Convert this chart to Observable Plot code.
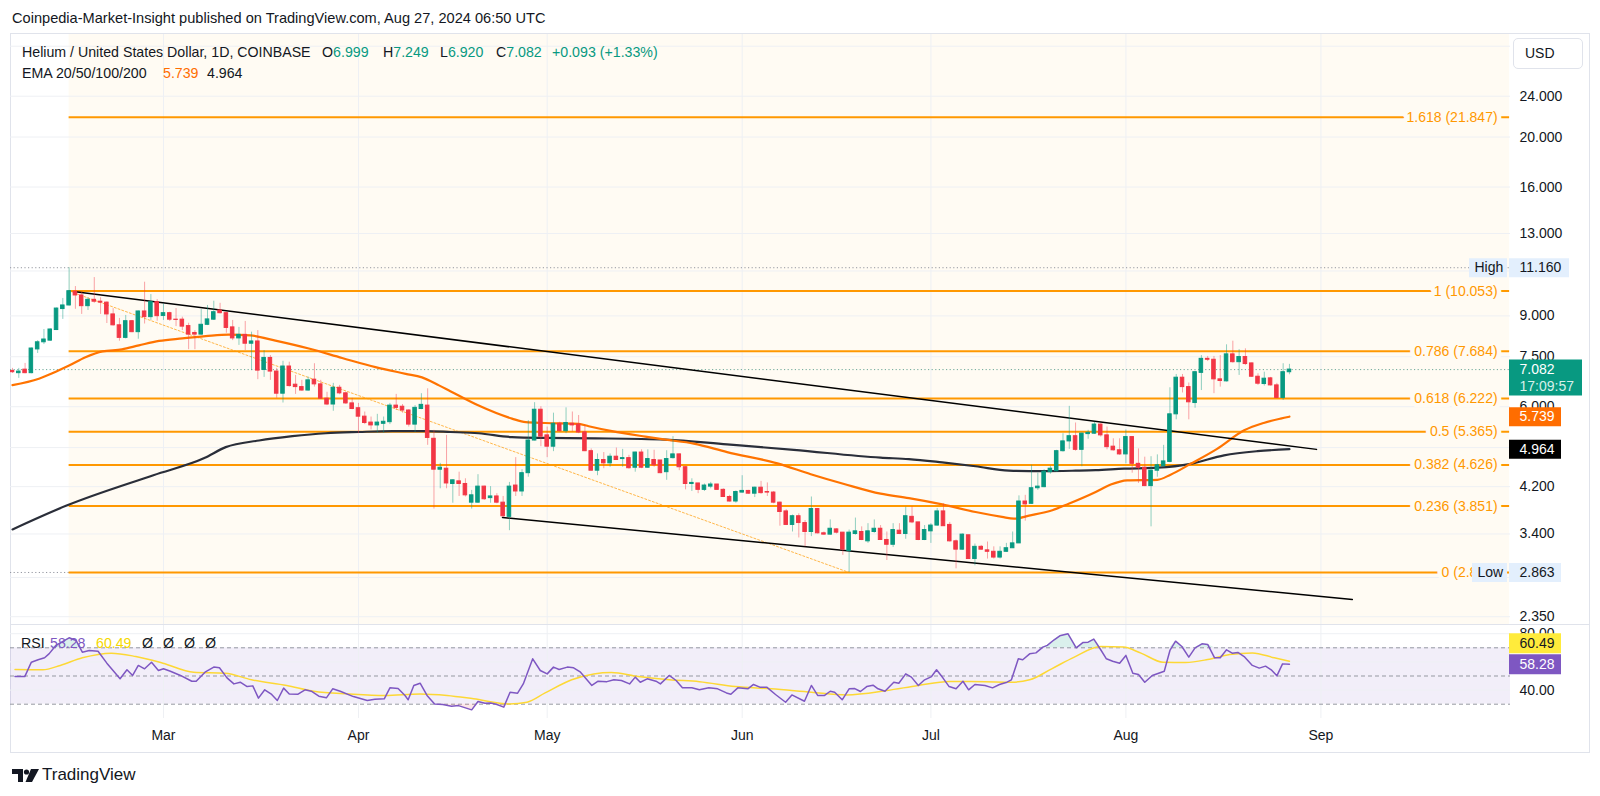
<!DOCTYPE html>
<html><head><meta charset="utf-8">
<script src="https://cdn.jsdelivr.net/npm/d3@7"></script>
<script src="https://cdn.jsdelivr.net/npm/@observablehq/plot@0.6"></script>
<style>
body{margin:0;width:1600px;height:796px;background:#fff;font-family:"Liberation Sans",Arial,sans-serif;color:#131722;overflow:hidden;position:relative}
.abs{position:absolute;white-space:nowrap}
.g{color:#089981}
.lg{font-size:14.2px}
</style></head><body>
<div class="abs" style="left:12px;top:10px;font-size:14.6px">Coinpedia-Market-Insight published on TradingView.com, Aug 27, 2024 06:50 UTC</div>
<div class="abs" style="left:10px;top:33px;width:1580px;height:720px;border:1px solid #e0e3eb;box-sizing:border-box"></div>
<div id="price" class="abs" style="left:0;top:34px"></div>
<div id="paxis" class="abs" style="left:1460px;top:34px"></div>
<div class="abs" style="left:10px;top:624px;width:1580px;height:1px;background:#e0e3eb"></div>
<div id="rsi" class="abs" style="left:0;top:625px"></div>
<div id="raxis" class="abs" style="left:1460px;top:625px"></div>

<div class="abs" style="left:1513px;top:38px;width:70px;height:31px;border:1px solid #e0e3eb;border-radius:5px;box-sizing:border-box;font-size:14px;line-height:29px;padding-left:11px;background:#fff">USD</div>

<div class="abs lg" style="left:22px;top:44px">Helium / United States Dollar, 1D, COINBASE</div>
<div class="abs lg" style="left:322px;top:44px">O<span class="g">6.999</span></div>
<div class="abs lg" style="left:383px;top:44px">H<span class="g">7.249</span></div>
<div class="abs lg" style="left:440px;top:44px">L<span class="g">6.920</span></div>
<div class="abs lg" style="left:496px;top:44px">C<span class="g">7.082</span></div>
<div class="abs lg g" style="left:552px;top:44px">+0.093 (+1.33%)</div>
<div class="abs lg" style="left:22px;top:65px">EMA 20/50/100/200</div>
<div class="abs lg" style="left:163px;top:65px;color:#ff6d00">5.739</div>
<div class="abs lg" style="left:207px;top:65px">4.964</div>

<div class="abs lg" style="left:21px;top:635px">RSI</div>
<div class="abs lg" style="left:50px;top:635px;color:#7e57c2">58.28</div>
<div class="abs lg" style="left:96px;top:635px;color:#f5d800">60.49</div>
<div class="abs lg" style="left:142px;top:635px;word-spacing:6px">Ø Ø Ø Ø</div>

<div class="abs" style="left:12px;top:766px;height:18px">
<svg width="28" height="16" viewBox="0 0 28 16" style="position:absolute;left:0;top:2px"><path d="M0 1H11V14H6V6H0Z" fill="#131722"/><circle cx="14.5" cy="4" r="2.6" fill="#131722"/><path d="M19 1H27L20 14H13.5Z" fill="#131722"/></svg>
<span style="position:absolute;left:30px;top:-1px;font-size:17px">TradingView</span></div>

<script>
// ---------- data ----------
const startDate = "2024-02-06"; // first daily candle
const open  = [7.04,6.97,7.08,6.97,7.75,8.00,8.06,8.45,9.28,9.43,10.03,9.86,9.40,9.67,9.59,9.55,9.06,8.63,8.16,8.79,8.37,9.18,8.95,9.57,9.00,9.11,8.85,8.85,8.60,8.34,8.28,8.65,8.85,9.22,9.11,8.55,8.14,8.27,7.95,8.03,7.07,7.46,7.02,6.36,7.18,6.62,6.55,6.45,6.77,6.63,6.22,6.06,6.53,6.37,6.09,5.96,5.74,5.59,5.52,5.56,5.60,6.03,6.00,5.90,5.54,5.94,6.03,5.20,4.53,4.55,4.25,4.30,4.25,3.91,3.91,4.20,3.99,4.02,3.91,3.67,4.22,4.11,4.46,5.16,5.92,5.28,5.02,5.56,5.38,5.56,5.54,5.35,4.92,4.51,4.73,4.66,4.80,4.75,4.77,4.57,4.89,4.57,4.73,4.72,4.48,4.77,4.85,4.58,4.25,4.26,4.14,4.20,4.24,4.14,4.01,3.93,4.09,4.12,4.07,4.18,4.10,4.09,3.91,3.76,3.54,3.68,3.57,3.43,3.80,3.41,3.39,3.47,3.42,3.15,3.40,3.43,3.29,3.43,3.48,3.31,3.24,3.45,3.40,3.67,3.58,3.31,3.44,3.53,3.76,3.54,3.29,3.17,3.38,3.04,3.21,3.16,3.14,3.06,3.14,3.19,3.26,3.93,3.89,4.17,4.19,4.48,4.50,4.92,5.14,5.26,4.95,5.31,5.32,5.54,5.28,5.02,4.94,4.85,5.24,4.65,4.57,4.21,4.51,4.60,4.69,5.80,6.83,6.55,6.10,6.98,7.43,7.40,6.78,6.72,7.58,7.32,7.49,7.28,6.86,6.64,6.81,6.60,6.24,6.999];
const high  = [7.12,7.12,7.28,7.80,8.06,8.47,8.50,9.32,9.73,11.16,10.26,10.01,9.76,10.68,9.76,9.58,9.30,8.90,9.02,8.82,9.20,10.46,9.90,9.68,9.49,9.15,9.30,8.95,8.71,8.43,9.26,9.43,9.61,9.52,9.15,8.82,8.55,8.78,8.37,8.43,7.71,7.54,7.12,7.35,7.32,6.90,6.75,6.85,7.27,6.75,6.40,6.66,6.60,6.40,6.23,6.09,5.86,5.73,5.80,5.73,6.09,6.34,6.06,5.92,6.03,6.36,6.50,5.40,4.66,5.28,4.33,4.48,4.35,4.13,4.43,4.21,4.20,4.07,4.02,4.28,4.78,4.53,5.64,6.11,6.00,5.48,5.83,5.60,5.97,5.86,5.77,5.52,4.97,4.86,4.89,4.86,4.99,4.96,4.83,4.90,4.95,4.95,4.94,4.72,4.93,5.25,4.86,4.59,4.35,4.26,4.25,4.28,4.24,4.16,4.04,4.12,4.41,4.13,4.19,4.30,4.27,4.11,3.92,3.79,3.70,3.72,3.61,4.01,3.81,3.43,3.62,3.48,3.42,3.46,3.65,3.51,3.56,3.62,3.53,3.43,3.56,3.56,3.83,3.84,3.58,3.53,3.56,3.81,3.89,3.58,3.31,3.40,3.38,3.25,3.23,3.28,3.21,3.21,3.26,3.43,4.03,4.04,4.62,4.46,4.53,4.60,4.94,5.32,6.01,5.58,5.33,5.40,5.60,5.56,5.48,5.20,5.20,5.41,5.24,4.97,4.79,4.80,4.84,5.05,6.53,6.93,6.93,6.67,7.03,7.54,7.51,7.51,7.54,7.91,8.04,7.74,7.77,7.29,6.95,7.00,6.84,6.66,7.27,7.249];
const low   = [6.96,6.81,6.95,6.95,7.61,7.92,8.03,8.43,8.86,9.40,9.27,9.06,9.22,9.52,9.06,8.70,8.60,8.04,8.12,8.35,8.11,8.68,8.82,8.79,8.82,8.78,8.58,8.43,7.74,7.74,8.25,8.62,8.82,9.08,8.33,8.06,7.89,7.71,7.05,6.77,6.84,6.75,6.23,6.10,6.55,6.34,6.43,6.43,6.55,6.20,6.03,5.88,6.33,6.06,5.92,5.32,5.54,5.41,5.33,5.33,5.54,5.90,5.83,5.48,5.35,5.92,5.05,3.80,4.16,4.16,3.90,4.02,4.01,3.80,3.90,3.95,3.90,3.89,3.66,3.45,4.02,4.02,4.38,5.15,5.02,4.78,4.91,5.36,5.32,5.36,5.32,4.91,4.50,4.41,4.55,4.58,4.72,4.58,4.54,4.48,4.55,4.56,4.58,4.45,4.32,4.75,4.51,4.14,4.11,4.07,4.11,4.16,4.13,4.00,3.92,3.90,4.08,4.06,4.00,4.06,4.02,3.89,3.52,3.53,3.43,3.34,3.21,3.36,3.40,3.38,3.38,3.40,3.09,2.863,3.38,3.30,3.26,3.41,3.31,3.02,3.20,3.39,3.32,3.56,3.30,3.30,3.26,3.52,3.52,3.28,2.91,3.16,3.04,2.95,3.16,3.04,3.04,3.04,3.13,3.19,3.26,3.60,3.88,4.13,4.18,4.44,4.48,4.90,4.96,4.92,4.59,5.19,5.30,5.24,4.95,4.92,4.83,4.65,4.46,4.26,4.20,3.51,4.38,4.58,4.67,5.66,6.38,5.66,5.96,6.45,7.34,6.36,6.55,6.70,7.29,6.90,7.21,6.84,6.60,6.58,6.58,6.22,6.17,6.920];
const close = [7.00,7.02,6.97,7.78,8.00,8.10,8.47,9.30,9.43,10.05,9.86,9.40,9.67,9.59,9.55,9.06,8.63,8.16,8.79,8.37,9.18,8.95,9.57,8.99,9.11,8.85,8.84,8.58,8.28,8.28,8.65,8.86,9.15,9.11,8.53,8.14,8.27,7.95,8.03,7.05,7.46,7.02,6.36,7.18,6.58,6.55,6.45,6.75,6.63,6.22,6.06,6.53,6.37,6.09,5.94,5.74,5.58,5.52,5.59,5.61,6.03,5.97,5.90,5.54,5.97,6.05,5.22,4.53,4.57,4.26,4.32,4.25,4.04,4.04,4.20,3.97,4.02,3.91,3.68,4.20,4.11,4.46,5.16,5.92,5.25,5.02,5.56,5.38,5.58,5.52,5.35,4.92,4.51,4.73,4.66,4.80,4.73,4.77,4.56,4.89,4.57,4.75,4.62,4.46,4.75,4.85,4.58,4.25,4.27,4.14,4.22,4.24,4.14,4.01,3.93,4.10,4.12,4.07,4.18,4.08,4.09,3.91,3.75,3.54,3.68,3.57,3.43,3.80,3.41,3.39,3.48,3.42,3.17,3.42,3.44,3.31,3.44,3.48,3.31,3.24,3.46,3.40,3.68,3.58,3.31,3.46,3.53,3.76,3.52,3.29,3.17,3.39,3.04,3.21,3.17,3.14,3.06,3.14,3.19,3.26,3.93,3.88,4.17,4.20,4.49,4.55,4.92,5.14,5.26,4.95,5.32,5.34,5.54,5.28,5.01,4.94,4.85,5.24,4.65,4.57,4.21,4.51,4.62,4.70,5.80,6.83,6.55,6.12,7.00,7.43,7.40,6.78,6.73,7.58,7.32,7.49,7.26,6.86,6.65,6.80,6.60,6.24,7.00,7.082];

// EMA lines (day offset from first candle, price)
const emaFastT = [0,4.2,6.8,9.0,11.6,14.3,17.4,20.1,23.3,27.0,30.7,34.4,37.8,41.8,47.1,52.4,57.7,62.5,65.1,67.8,69.6,74.1,79.4,81.6,84.7,90.0,91.6,95.3,100.6,103.8,108.3,113.6,121.6,126.9,132.2,138.0,142.5,147.8,153.1,157.3,159.2,161.6,165.3,167.9,172.2,174.6,177.2,182.0,184.1,187.3,191.5,195.8,198.9,201.6,203];
const emaFastV = [6.61,6.80,7.01,7.21,7.48,7.68,7.75,7.89,8.05,8.14,8.22,8.28,8.25,8.06,7.78,7.46,7.16,6.95,6.84,6.60,6.43,6.03,5.69,5.60,5.58,5.56,5.50,5.38,5.25,5.18,5.09,4.90,4.66,4.44,4.25,4.07,3.99,3.88,3.75,3.67,3.64,3.69,3.78,3.89,4.10,4.24,4.32,4.33,4.43,4.65,4.97,5.40,5.58,5.69,5.739];
const emaSlowT = [0,8.6,22.4,30.5,33.9,39.2,44.5,49.8,55.1,60.4,65.7,69.6,74.1,79.4,84.7,92.7,103.8,113.6,124.2,138.0,142.5,147.8,153.1,158.4,163.7,169.0,172.2,176.7,182.0,187.3,192.6,197.9,203];
const emaSlowV = [3.47,3.86,4.42,4.77,5.01,5.16,5.26,5.33,5.36,5.38,5.38,5.36,5.33,5.24,5.22,5.21,5.18,5.07,4.95,4.78,4.75,4.68,4.60,4.51,4.50,4.51,4.52,4.55,4.57,4.65,4.83,4.92,4.964];

// RSI and its moving average
const rsiT = [0.4,1.95,3.0,4.07,5.1,5.8,6.9,9.0,10.1,11.1,12.2,13.6,15.0,17.1,18.2,19.1,20.0,21.0,22.1,23.2,24,25.1,26.7,28.5,29.2,30.6,32.0,32.9,34.1,35.2,36.2,37.3,38.2,39.1,40.1,41.2,42.1,43.1,44.0,45.4,46.5,47.5,48.7,49.9,50.9,52.1,54.2,56.4,57.6,59.1,60.0,61.3,62.4,62.9,63.8,64.8,65.9,67.1,68.4,69.8,70.9,73.0,74.0,75.1,76.0,76.9,78.1,79.1,80.3,81.2,82.7,83.9,85.0,86.0,86.9,88.2,89.2,90.3,92.1,93.1,94.5,95.6,96.8,98.1,99.0,99.8,100.9,102.3,103.0,104.4,105.5,106.5,108.0,109.2,110.7,112.1,113.5,114.2,115.3,116.9,117.8,118.8,119.9,121.3,122.9,123.9,125.9,127.0,128.0,129.1,130.0,130.7,131.9,133.0,133.9,134.8,135.8,136.8,137.6,138.7,140.1,140.9,142.0,142.9,144.0,145.0,146.1,146.9,147.9,148.9,150.0,151.1,152.0,153.0,154.6,155.8,156.9,158.1,158.8,159.9,160.6,161.7,162.7,163.8,164.5,165.6,166.5,167.8,169.1,170.2,171.0,171.9,173.0,173.9,174.9,176.0,177.0,178.1,179.0,180.0,181.2,183.1,184.0,184.9,185.9,187.0,188.0,189.1,190.0,191.1,192.0,193.0,193.9,194.8,195.8,197.1,198.2,199.2,200.1,201.0,201.9,203];
const rsiV = [49.6,49.6,59.8,61.5,62.9,65.7,71.7,77.1,75.2,66.9,68.1,67.6,59.1,48,54.4,50.4,57.5,55.1,59.8,53.9,55.1,53.4,50.4,46.3,46.3,52.7,56.3,55.8,48.7,44.4,45.6,42.5,43,34.3,40.2,36.9,32.6,41.4,37.3,37.1,40.2,39.2,35.7,34.5,40.9,39.2,35.4,32.6,33.5,33.8,41.6,41.2,36.2,33.1,43.3,44.9,36.2,30.2,29.8,28.6,29,26,31.9,30.7,30.9,30,27.9,38.5,37.8,44.4,62.2,53.9,51.5,56.3,54.6,56.3,55.8,52.7,43.3,46.3,46.0,47.3,46.8,44.4,49.2,45.6,48,46.3,44.4,50.4,46.8,41.6,41.6,40.2,41.6,40.9,38,37.1,41.6,40.9,44,42.1,42.1,36.9,31.4,36.6,32.1,43.3,36.2,36.2,39.2,38.5,33.1,40.9,41.1,39,42.5,43.5,40.9,39.2,45.6,44.9,51.5,49.2,43.3,47.3,49.6,54.4,48.7,42.5,40.9,46.3,40.2,44,43.3,41.6,44,45.6,47.3,62.2,61.5,65.7,66.4,70.5,71.7,75.7,78.5,79.9,70,73.8,74,76.2,68.6,62.2,60.5,59.1,64.6,52,51.1,45.6,50.4,53.4,68.1,74.7,70.9,63.4,70,72.8,72.4,62.9,62.9,68.6,66.2,66.7,63.8,57.5,55.6,57,54.4,50.1,58.6,58.28];
const maT = [0.4,4.8,7.6,11.1,15.7,19.6,23.9,28.8,33.8,38.0,43.6,47.9,53.5,59.2,64.8,69.1,73.3,79.0,81.8,84.6,88.9,92.4,95.2,99.5,104.4,109.2,114.9,120.6,127.0,132.6,139.0,144.0,148.9,154.6,158.8,161.7,165.2,168.8,173.0,176.6,179.4,182.9,186.5,190.0,193.5,197.1,200.6,203];
const maV = [54.6,54.4,57.5,62.9,66.2,63.8,59.1,52.7,52,47.3,43.3,39.2,37.3,36.2,37.3,36.2,33.8,30.2,31.4,37.8,47.3,51.5,52.5,49.6,47.3,46,42.5,40.9,38.5,36.6,39.7,43.3,46.1,45.9,45.6,47.3,55.1,63.4,70.9,70.5,66.2,59.8,59.6,61.7,65.3,66.4,62.9,60.49];

// Fibonacci retracement (log) drawn from the Feb 15 high to the Jun 18 low
const fibLevels = [0, 0.236, 0.382, 0.5, 0.618, 0.786, 1, 1.618];
const fibPrices = [2.863, 3.851, 4.626, 5.365, 6.222, 7.684, 10.053, 21.847];
const fibFrom = "2024-02-15", fibTo = "2024-10-01";
// trend lines: [day offset, price]
const upperTrend = [[10, 10.03], [207.3, 4.96]];
const lowerTrend = [[77.9, 3.66], [213, 2.537]];
const fibTrend = [[9, 10.053], [133, 2.863]];

const gridTicks = [2.35, 2.8, 3.4, 4.2, 5, 6, 7.5, 9, 11, 13, 16, 20, 24, 30];
const priceTicks = [2.35, 3.4, 4.2, 6, 7.5, 9, 13, 16, 20, 24];
const rsiTicks = [40, 60, 80];
const rsiLabelTicks = [40, 80];
const rsiLevels = [30, 50, 70];
const monthTicks = ["2024-03-01","2024-04-01","2024-05-01","2024-06-01","2024-07-01","2024-08-01","2024-09-01"];
const lastPrice = 7.082, highPrice = 11.160, lowPrice = 2.863, emaFastLast = 5.739, emaSlowLast = 4.964;
const rsiLast = 58.28, maLast = 60.49;

// ---------- build ----------
const DAY = 864e5, T0 = Date.parse(startDate);
const toDate = t => new Date(T0 + t * DAY);
const up = "#089981", dn = "#f23645", cream = "#fffbf3", grid = "#eef0f4";
const candles = open.map((o, i) => ({date: toDate(i), o, h: high[i], l: low[i], c: close[i], col: close[i] >= o ? up : dn}));
const months = monthTicks.map(d => new Date(d));
const pts = (T, V) => T.map((t, i) => ({date: toDate(t), v: V[i]}));
const fibData = fibLevels.map((l, i) => ({l, p: fibPrices[i], a: new Date(fibFrom), b: new Date(fibTo),
  label: `${l} (${fibPrices[i].toFixed(3)})`}));
const tl = a => a.map(([t, p]) => ({date: toDate(t), v: p}));
const xDomain = [new Date(startDate), new Date("2024-09-01")];
const xRange = [12, 1320.4];
const font = '"Liberation Sans", Arial, sans-serif';
const yPrice = {type: "log", domain: [2.35, 24], range: [582.2, 61.7]};
const yRsi = {type: "linear", domain: [30, 70], range: [78.7, 22.3]};

const price = Plot.plot({
  width: 1600, height: 591, marginLeft: 10, marginRight: 90, marginTop: 0, marginBottom: 0,
  x: {type: "utc", domain: xDomain, range: xRange, axis: null},
  y: yPrice,
  style: {fontFamily: font, fontSize: "14px", color: "#131722", background: "transparent", overflow: "visible"},
  marks: [
    Plot.rect([{a: new Date(fibFrom), b: new Date(fibTo), lo: 2.0, hi: 32}], {x1: "a", x2: "b", y1: "lo", y2: "hi", fill: cream, clip: true}),
    Plot.gridY(gridTicks, {stroke: grid, strokeOpacity: 1}),
    Plot.gridX(months, {stroke: grid, strokeOpacity: 1}),
    Plot.ruleY([highPrice, lowPrice], {stroke: "#9598a1", strokeDasharray: "1.2,2.4", strokeWidth: 1}),
    Plot.ruleY([lastPrice], {stroke: "#6fa99a", strokeDasharray: "1.2,2.4", strokeWidth: 1}),
    Plot.ruleY(fibData, {y: "p", x1: "a", x2: "b", stroke: "#ff9800", strokeWidth: 2}),
    Plot.line(tl(fibTrend), {x: "date", y: "v", stroke: "#ff9800", strokeOpacity: 0.7, strokeWidth: 1, strokeDasharray: "2,2"}),
    Plot.line(pts(emaSlowT, emaSlowV), {x: "date", y: "v", stroke: "#2a2e39", strokeWidth: 2.2, curve: "monotone-x", clip: true}),
    Plot.line(pts(emaFastT, emaFastV), {x: "date", y: "v", stroke: "#ff7300", strokeWidth: 2.2, curve: "monotone-x", clip: true}),
    Plot.line(tl(upperTrend), {x: "date", y: "v", stroke: "#000", strokeWidth: 1.5}),
    Plot.line(tl(lowerTrend), {x: "date", y: "v", stroke: "#000", strokeWidth: 1.5}),
    Plot.ruleX(candles, {x: "date", y1: "l", y2: "h", stroke: "col", strokeOpacity: 0.45, strokeWidth: 1, clip: true}),
    Plot.rect(candles, {x1: d => new Date(+d.date - 0.28 * DAY), x2: d => new Date(+d.date + 0.28 * DAY),
      y1: d => Math.min(d.o, d.c), y2: d => Math.max(d.o, d.c), fill: "col", stroke: "col", strokeWidth: 1, clip: true}),
    Plot.text(fibData, {x: "b", y: "p", text: "label", dx: -12, textAnchor: "end", fill: "#ff9800", fontSize: 14,
      stroke: cream, strokeWidth: 9, paintOrder: "stroke"}),
    Plot.axisY(priceTicks, {anchor: "right", tickSize: 0, tickPadding: 9, tickFormat: d3.format(".3f"), fontSize: 14, label: null})
  ]
});
document.getElementById("price").append(price);

// axis value tags
const tags = [
  {v: highPrice, x1: 49, x2: 109, bg: "#e3effd", fg: "#131722", t: "11.160"},
  {v: emaFastLast, x1: 49, x2: 101, bg: "#ff6d00", fg: "#fff", t: "5.739"},
  {v: emaSlowLast, x1: 49, x2: 101, bg: "#000", fg: "#fff", t: "4.964"},
  {v: lowPrice, x1: 49, x2: 101, bg: "#e3effd", fg: "#131722", t: "2.863"}
];
const sideTags = [
  {v: highPrice, x1: 9, x2: 47, t: "High", tx: 14},
  {v: lowPrice, x1: 12, x2: 47, t: "Low", tx: 17}
];
const paxis = Plot.plot({
  width: 140, height: 591, margin: 0,
  x: {type: "linear", domain: [0, 140], range: [0, 140], axis: null},
  y: {...yPrice, axis: null},
  style: {fontFamily: font, fontSize: "14px", background: "transparent", overflow: "visible"},
  marks: [
    Plot.ruleY(sideTags, {y: "v", x1: "x1", x2: "x2", stroke: "#e3effd", strokeWidth: 19}),
    Plot.text(sideTags, {y: "v", x: "tx", text: "t", textAnchor: "start", fill: "#131722", fontSize: 14}),
    Plot.ruleY(tags, {y: "v", x1: "x1", x2: "x2", stroke: "bg", strokeWidth: 19}),
    Plot.text(tags, {y: "v", x: 59, text: "t", textAnchor: "start", fill: "fg", fontSize: 14}),
    Plot.ruleY([lastPrice], {x1: 49, x2: 122, stroke: up, strokeWidth: 36, dy: 8}),
    Plot.text([lastPrice], {y: d => d, x: 59, text: d => d.toFixed(3), textAnchor: "start", fill: "#fff", fontSize: 14}),
    Plot.text([lastPrice], {y: d => d, x: 59, text: () => "17:09:57", dy: 17, textAnchor: "start", fill: "#d7f0ea", fontSize: 14})
  ]
});
document.getElementById("paxis").append(paxis);

const rsiData = pts(rsiT, rsiV);
const rsi = Plot.plot({
  width: 1600, height: 128, marginLeft: 10, marginRight: 90, marginTop: 0, marginBottom: 35,
  x: {type: "utc", domain: xDomain, range: xRange},
  y: yRsi,
  style: {fontFamily: font, fontSize: "14px", color: "#131722", background: "transparent", overflow: "visible"},
  marks: [
    Plot.rect([{a: 30, b: 70}], {y1: "a", y2: "b", fill: "#7e57c2", fillOpacity: 0.1}),
    Plot.gridY(rsiTicks, {stroke: grid, strokeOpacity: 1}),
    Plot.gridX(months, {stroke: grid, strokeOpacity: 1}),
    Plot.ruleY(rsiLevels, {stroke: "#9598a1", strokeDasharray: "4,3", strokeWidth: 1}),
    Plot.areaY(rsiData, {x: "date", y1: 70, y2: d => Math.max(70, d.v), fill: "#089981", fillOpacity: 0.15}),
    Plot.areaY(rsiData, {x: "date", y1: 30, y2: d => Math.min(30, d.v), fill: "#f23645", fillOpacity: 0.12}),
    Plot.line(pts(maT, maV), {x: "date", y: "v", stroke: "#fdd835", strokeWidth: 1.5, curve: "monotone-x"}),
    Plot.line(rsiData, {x: "date", y: "v", stroke: "#7e57c2", strokeWidth: 1.5}),
    Plot.axisY(rsiLabelTicks, {anchor: "right", tickSize: 0, tickPadding: 9, tickFormat: d3.format(".2f"), fontSize: 14, label: null}),
    Plot.axisX(months, {anchor: "bottom", tickSize: 0, tickPadding: 12, tickFormat: d3.utcFormat("%b"), fontSize: 14, label: null})
  ]
});
document.getElementById("rsi").append(rsi);

const rtags = [
  {v: maLast, bg: "#ffeb3b", fg: "#131722", t: "60.49"},
  {v: rsiLast, bg: "#7e57c2", fg: "#fff", t: "58.28"}
];
const raxis = Plot.plot({
  width: 140, height: 128, margin: 0,
  x: {type: "linear", domain: [0, 140], range: [0, 140], axis: null},
  y: {...yRsi, axis: null},
  style: {fontFamily: font, fontSize: "14px", background: "transparent", overflow: "visible"},
  marks: [
    Plot.ruleY(rtags.slice(0, 1), {y: "v", x1: 49, x2: 101, stroke: "bg", strokeWidth: 20, dy: -18}),
    Plot.text(rtags.slice(0, 1), {y: "v", x: 59, text: "t", textAnchor: "start", fill: "fg", fontSize: 14, dy: -18}),
    Plot.ruleY(rtags.slice(1), {y: "v", x1: 49, x2: 101, stroke: "bg", strokeWidth: 20}),
    Plot.text(rtags.slice(1), {y: "v", x: 59, text: "t", textAnchor: "start", fill: "fg", fontSize: 14})
  ]
});
document.getElementById("raxis").append(raxis);
</script>
</body></html>
